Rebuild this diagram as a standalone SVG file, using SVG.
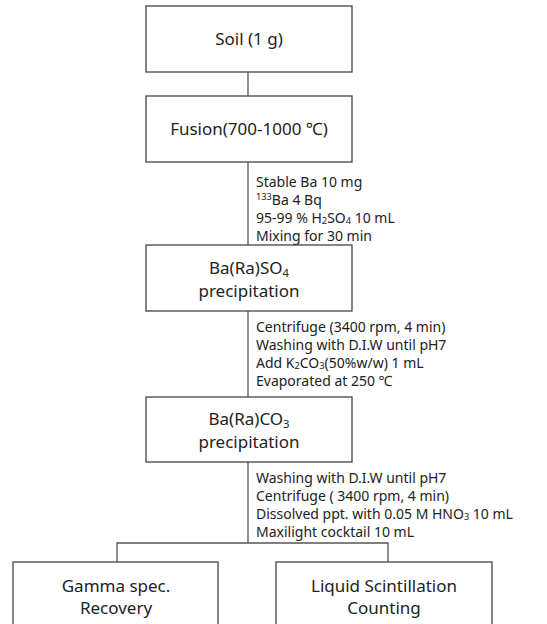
<svg xmlns="http://www.w3.org/2000/svg" width="547" height="624" viewBox="0 0 547 624">
<style>
.box{fill:#fff;stroke:#444;stroke-width:1.3}
.ln{stroke:#555;stroke-width:1.3;fill:none}
.t{font-family:"Noto Sans","DejaVu Sans",sans-serif;font-size:17px;fill:#222;text-anchor:middle}
.n{font-family:"Noto Sans","DejaVu Sans",sans-serif;font-size:14px;fill:#222}
.s{font-size:66%}
</style>
<rect width="547" height="624" fill="#fff"/>
<g id="connectors">
<line class="ln" x1="248" y1="72" x2="248" y2="96"/>
<line class="ln" x1="248" y1="162" x2="248" y2="245"/>
<line class="ln" x1="248" y1="311" x2="248" y2="397"/>
<line class="ln" x1="248" y1="462" x2="248" y2="543"/>
<polyline class="ln" points="117,562 117,543 388,543 388,562"/>
</g>
<g id="notes">
<text class="n" x="256" y="187">Stable Ba 10 mg</text>
<text class="n" x="256" y="205"><tspan class="s" dy="-5">133</tspan><tspan dy="5">Ba 4 Bq</tspan></text>
<text class="n" x="256" y="223">95-99 % H<tspan class="s" dy="1">2</tspan><tspan dy="-1">SO</tspan><tspan class="s" dy="1">4</tspan><tspan dy="-1"> 10 mL</tspan></text>
<text class="n" x="256" y="241">Mixing for 30 min</text>
<text class="n" x="256" y="332">Centrifuge (3400 rpm, 4 min)</text>
<text class="n" x="256" y="350">Washing with D.I.W until pH7</text>
<text class="n" x="256" y="368">Add K<tspan class="s" dy="1">2</tspan><tspan dy="-1">CO</tspan><tspan class="s" dy="1">3</tspan><tspan dy="-1">(50%w/w) 1 mL</tspan></text>
<text class="n" x="256" y="386">Evaporated at 250 ℃</text>
<text class="n" x="256" y="483">Washing with D.I.W until pH7</text>
<text class="n" x="256" y="501">Centrifuge ( 3400 rpm, 4 min)</text>
<text class="n" x="256" y="519">Dissolved ppt. with 0.05 M HNO<tspan class="s" dy="1">3</tspan><tspan dy="-1"> 10 mL</tspan></text>
<text class="n" x="256" y="537">Maxilight cocktail 10 mL</text>
</g>
<g id="soil">
<rect class="box" x="146" y="6" width="206" height="66"/>
<text class="t" x="249" y="45">Soil (1 g)</text>
</g>
<g id="fusion">
<rect class="box" x="146" y="96" width="206" height="66"/>
<text class="t" x="249" y="135">Fusion(700-1000 ℃)</text>
</g>
<g id="baso4">
<rect class="box" x="146" y="245" width="206" height="66"/>
<text class="t" x="249" y="274">Ba(Ra)SO<tspan class="s" dy="3">4</tspan></text>
<text class="t" x="249" y="297">precipitation</text>
</g>
<g id="baco3">
<rect class="box" x="146" y="397" width="206" height="65"/>
<text class="t" x="249" y="425">Ba(Ra)CO<tspan class="s" dy="3">3</tspan></text>
<text class="t" x="249" y="448">precipitation</text>
</g>
<g id="gamma">
<rect class="box" x="13" y="562" width="205" height="70"/>
<text class="t" x="116" y="592">Gamma spec.</text>
<text class="t" x="116" y="614">Recovery</text>
</g>
<g id="lsc">
<rect class="box" x="276" y="562" width="216" height="70"/>
<text class="t" x="384" y="592">Liquid Scintillation</text>
<text class="t" x="384" y="614">Counting</text>
</g>
</svg>
